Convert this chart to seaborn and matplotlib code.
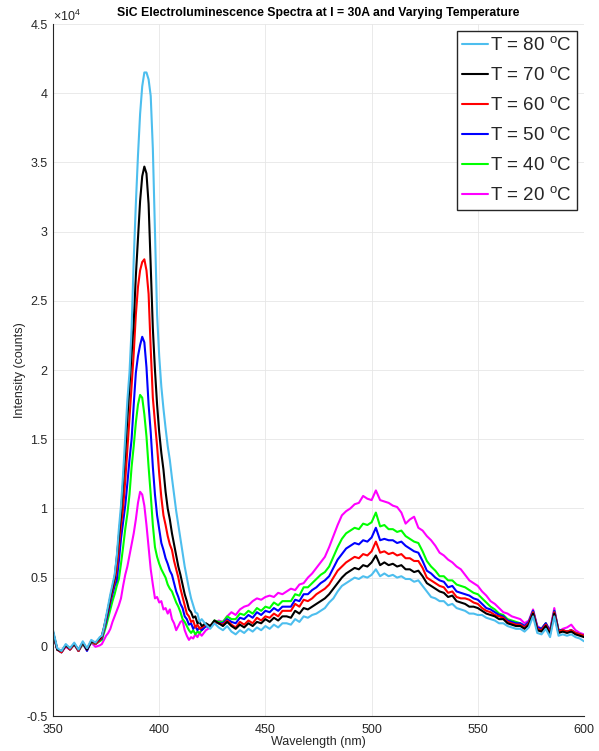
import pandas as pd
import seaborn as sns
import matplotlib.pyplot as plt
from matplotlib.ticker import FuncFormatter

# wavelength samples (nm): coarse on the flat parts, 1 nm across the UV peak
wl = list(range(350, 373, 2)) + list(range(373, 421)) + list(range(422, 601, 2))

# intensities in units of 1e4 counts
# (rows: 350-372 | 373-420 | 422-468 | 470-550 | 552-600)
t80 = [0.12, -0.01, -0.03, 0.02, -0.01, 0.03, -0.02, 0.04, -0.01, 0.05, 0.03, 0.07,
       0.08, 0.14, 0.22, 0.30, 0.38, 0.45, 0.52, 0.65, 0.85, 1.02, 1.25, 1.52, 1.78, 1.98, 2.30, 2.80,
       3.20, 3.55, 3.85, 4.05, 4.15, 4.15, 4.10, 3.98, 3.60, 3.00, 2.40, 2.10, 1.88, 1.72, 1.58, 1.45,
       1.35, 1.22, 1.10, 0.98, 0.88, 0.78, 0.68, 0.58, 0.50, 0.42, 0.35, 0.30, 0.25, 0.24, 0.18, 0.20,
       0.16, 0.13, 0.17, 0.14, 0.12, 0.15, 0.11, 0.09, 0.12, 0.10, 0.13, 0.11, 0.14, 0.12, 0.15, 0.13,
       0.16, 0.14, 0.17, 0.17, 0.16, 0.20, 0.18, 0.22,
       0.21, 0.23, 0.24, 0.26, 0.28, 0.32, 0.35, 0.40, 0.44, 0.46, 0.48, 0.50, 0.49, 0.51, 0.50, 0.52,
       0.56, 0.51, 0.53, 0.51, 0.52, 0.50, 0.51, 0.49, 0.49, 0.47, 0.48, 0.44, 0.40, 0.36, 0.35, 0.33,
       0.33, 0.30, 0.31, 0.28, 0.27, 0.26, 0.24, 0.24, 0.23,
       0.23, 0.21, 0.20, 0.19, 0.17, 0.17, 0.15, 0.14, 0.13, 0.13, 0.11, 0.14, 0.22, 0.10, 0.09, 0.13,
       0.07, 0.22, 0.08, 0.09, 0.08, 0.09, 0.07, 0.06, 0.04]
t70 = [0.11, -0.02, -0.03, 0.01, -0.01, 0.02, -0.02, 0.03, -0.02, 0.04, 0.03, 0.06,
       0.08, 0.14, 0.21, 0.28, 0.36, 0.43, 0.50, 0.64, 0.80, 0.96, 1.18, 1.40, 1.65, 1.88, 2.12, 2.35,
       2.68, 2.95, 3.22, 3.40, 3.47, 3.42, 3.20, 2.75, 2.30, 2.00, 1.75, 1.55, 1.40, 1.28, 1.12, 1.00,
       0.92, 0.82, 0.74, 0.66, 0.58, 0.52, 0.45, 0.38, 0.33, 0.27, 0.25, 0.21, 0.22, 0.17, 0.18, 0.15,
       0.17, 0.15, 0.19, 0.17, 0.15, 0.18, 0.15, 0.13, 0.16, 0.14, 0.17, 0.15, 0.18, 0.17, 0.20, 0.18,
       0.21, 0.19, 0.22, 0.22, 0.21, 0.26, 0.24, 0.28,
       0.27, 0.29, 0.31, 0.33, 0.35, 0.38, 0.42, 0.46, 0.50, 0.53, 0.55, 0.57, 0.56, 0.59, 0.58, 0.61,
       0.66, 0.59, 0.61, 0.59, 0.60, 0.58, 0.59, 0.56, 0.56, 0.54, 0.55, 0.51, 0.46, 0.44, 0.42, 0.40,
       0.39, 0.36, 0.37, 0.33, 0.32, 0.31, 0.29, 0.29, 0.28,
       0.26, 0.24, 0.23, 0.22, 0.20, 0.20, 0.17, 0.16, 0.15, 0.15, 0.13, 0.16, 0.24, 0.12, 0.11, 0.15,
       0.09, 0.24, 0.10, 0.11, 0.10, 0.11, 0.09, 0.08, 0.07]
t60 = [0.10, -0.02, -0.04, 0.01, -0.02, 0.02, -0.03, 0.03, -0.02, 0.04, 0.02, 0.05,
       0.07, 0.13, 0.20, 0.27, 0.34, 0.41, 0.47, 0.56, 0.72, 0.88, 1.00, 1.20, 1.42, 1.65, 1.88, 2.12,
       2.40, 2.60, 2.72, 2.78, 2.80, 2.72, 2.55, 2.15, 1.80, 1.62, 1.45, 1.25, 1.08, 0.95, 0.88, 0.80,
       0.74, 0.70, 0.62, 0.56, 0.50, 0.42, 0.36, 0.30, 0.24, 0.22, 0.18, 0.19, 0.14, 0.16, 0.13, 0.14,
       0.16, 0.15, 0.18, 0.17, 0.16, 0.19, 0.16, 0.14, 0.18, 0.16, 0.19, 0.17, 0.21, 0.19, 0.22, 0.21,
       0.24, 0.22, 0.26, 0.26, 0.26, 0.31, 0.29, 0.34,
       0.33, 0.35, 0.38, 0.40, 0.42, 0.45, 0.50, 0.55, 0.58, 0.61, 0.63, 0.65, 0.64, 0.67, 0.66, 0.69,
       0.76, 0.68, 0.69, 0.67, 0.68, 0.66, 0.67, 0.64, 0.64, 0.62, 0.62, 0.57, 0.50, 0.48, 0.46, 0.44,
       0.43, 0.39, 0.40, 0.36, 0.35, 0.35, 0.34, 0.32, 0.31,
       0.28, 0.26, 0.25, 0.23, 0.22, 0.21, 0.18, 0.17, 0.16, 0.16, 0.14, 0.17, 0.25, 0.13, 0.12, 0.16,
       0.10, 0.25, 0.11, 0.12, 0.11, 0.12, 0.10, 0.09, 0.08]
t50 = [0.10, -0.02, -0.04, 0.01, -0.02, 0.02, -0.03, 0.03, -0.03, 0.04, 0.02, 0.05,
       0.06, 0.12, 0.18, 0.25, 0.32, 0.38, 0.44, 0.48, 0.62, 0.78, 0.90, 1.02, 1.18, 1.35, 1.50, 1.75,
       1.98, 2.10, 2.18, 2.24, 2.20, 2.02, 1.75, 1.55, 1.30, 1.10, 0.95, 0.85, 0.75, 0.70, 0.64, 0.60,
       0.55, 0.52, 0.46, 0.40, 0.36, 0.31, 0.28, 0.22, 0.20, 0.16, 0.17, 0.13, 0.15, 0.12, 0.14, 0.12,
       0.15, 0.14, 0.18, 0.17, 0.17, 0.20, 0.18, 0.17, 0.21, 0.20, 0.23, 0.21, 0.25, 0.23, 0.26, 0.25,
       0.28, 0.26, 0.29, 0.29, 0.29, 0.34, 0.33, 0.38,
       0.38, 0.41, 0.43, 0.46, 0.48, 0.51, 0.57, 0.63, 0.67, 0.71, 0.73, 0.75, 0.74, 0.77, 0.76, 0.79,
       0.86, 0.77, 0.78, 0.77, 0.77, 0.75, 0.76, 0.73, 0.71, 0.69, 0.68, 0.62, 0.55, 0.53, 0.50, 0.48,
       0.47, 0.43, 0.44, 0.40, 0.39, 0.38, 0.37, 0.35, 0.34,
       0.31, 0.28, 0.27, 0.25, 0.23, 0.22, 0.19, 0.18, 0.17, 0.17, 0.15, 0.18, 0.26, 0.14, 0.13, 0.17,
       0.11, 0.26, 0.12, 0.12, 0.11, 0.12, 0.10, 0.09, 0.08]
t40 = [0.10, -0.02, -0.04, 0.01, -0.02, 0.02, -0.03, 0.02, -0.02, 0.03, 0.02, 0.04,
       0.05, 0.10, 0.15, 0.21, 0.27, 0.33, 0.38, 0.44, 0.49, 0.60, 0.72, 0.85, 0.96, 1.10, 1.30, 1.45,
       1.62, 1.75, 1.82, 1.80, 1.68, 1.52, 1.30, 1.10, 0.88, 0.72, 0.65, 0.60, 0.56, 0.53, 0.50, 0.45,
       0.42, 0.40, 0.36, 0.32, 0.29, 0.25, 0.20, 0.18, 0.15, 0.12, 0.10, 0.12, 0.09, 0.11, 0.10, 0.12,
       0.15, 0.14, 0.19, 0.18, 0.18, 0.22, 0.20, 0.20, 0.24, 0.23, 0.26, 0.24, 0.28, 0.26, 0.29, 0.28,
       0.32, 0.30, 0.33, 0.33, 0.33, 0.38, 0.37, 0.43,
       0.43, 0.46, 0.49, 0.52, 0.54, 0.58, 0.65, 0.72, 0.78, 0.82, 0.84, 0.86, 0.85, 0.89, 0.88, 0.90,
       0.97, 0.87, 0.88, 0.85, 0.85, 0.83, 0.84, 0.80, 0.78, 0.76, 0.75, 0.69, 0.62, 0.58, 0.55, 0.51,
       0.51, 0.48, 0.48, 0.45, 0.44, 0.43, 0.41, 0.39, 0.38,
       0.35, 0.32, 0.29, 0.27, 0.24, 0.23, 0.20, 0.19, 0.18, 0.17, 0.15, 0.18, 0.26, 0.14, 0.13, 0.17,
       0.11, 0.26, 0.12, 0.12, 0.11, 0.12, 0.10, 0.09, 0.08]
t20 = [0.10, -0.02, -0.04, 0.00, -0.02, 0.02, -0.03, 0.02, -0.02, 0.03, 0.00, 0.01,
       0.02, 0.05, 0.08, 0.10, 0.13, 0.18, 0.22, 0.26, 0.30, 0.35, 0.44, 0.52, 0.58, 0.66, 0.74, 0.82,
       0.92, 1.04, 1.12, 1.10, 1.02, 0.88, 0.72, 0.56, 0.45, 0.35, 0.36, 0.32, 0.33, 0.27, 0.28, 0.24,
       0.27, 0.20, 0.17, 0.12, 0.15, 0.18, 0.19, 0.12, 0.08, 0.05, 0.07, 0.06, 0.09, 0.07, 0.10, 0.08,
       0.12, 0.14, 0.17, 0.19, 0.18, 0.22, 0.25, 0.23, 0.27, 0.29, 0.30, 0.33, 0.35, 0.34, 0.36, 0.37,
       0.36, 0.39, 0.38, 0.40, 0.42, 0.41, 0.45, 0.46,
       0.50, 0.53, 0.57, 0.61, 0.65, 0.72, 0.80, 0.88, 0.95, 0.98, 1.00, 1.03, 1.04, 1.09, 1.07, 1.06,
       1.13, 1.06, 1.05, 1.04, 1.02, 1.01, 0.97, 0.89, 0.92, 0.94, 0.86, 0.84, 0.80, 0.77, 0.73, 0.68,
       0.66, 0.63, 0.61, 0.58, 0.56, 0.52, 0.48, 0.46, 0.44,
       0.40, 0.37, 0.33, 0.31, 0.28, 0.25, 0.24, 0.22, 0.21, 0.20, 0.17, 0.19, 0.27, 0.15, 0.13, 0.17,
       0.12, 0.28, 0.11, 0.13, 0.14, 0.16, 0.12, 0.10, 0.09]

labels = ['T = 80 $^{\\mathrm{o}}$C', 'T = 70 $^{\\mathrm{o}}$C', 'T = 60 $^{\\mathrm{o}}$C',
          'T = 50 $^{\\mathrm{o}}$C', 'T = 40 $^{\\mathrm{o}}$C', 'T = 20 $^{\\mathrm{o}}$C']
series = [t80, t70, t60, t50, t40, t20]
colors = ['#4DBEEE', '#000000', '#FF0000', '#0000FF', '#00FF00', '#FF00FF']

frames = []
for lab, vals in zip(labels, series):
    frames.append(pd.DataFrame({'wavelength': wl, 'counts': [v * 1e4 for v in vals], 'label': lab}))
df = pd.concat(frames, ignore_index=True)

sns.set_style('white')
plt.rcParams['font.family'] = ['Liberation Sans', 'DejaVu Sans']
plt.rcParams['mathtext.fontset'] = 'custom'
plt.rcParams['mathtext.rm'] = 'Liberation Sans'
plt.rcParams['axes.unicode_minus'] = False

fig = plt.figure(figsize=(5.99, 7.51), dpi=100)
ax = fig.add_axes([0.0885, 0.0466, 0.8865, 0.9214])

# draw 20 C first so the 80 C trace ends up on top, as in the original
sns.lineplot(data=df, x='wavelength', y='counts', hue='label', hue_order=labels[::-1],
             palette=dict(zip(labels, colors)), estimator=None, sort=False,
             linewidth=1.5, ax=ax)

ax.set_xlim(350, 600)
ax.set_ylim(-5000, 45000)
ax.set_xticks([350, 400, 450, 500, 550, 600])
ax.set_yticks([-5000 + 5000 * i for i in range(11)])
ax.yaxis.set_major_formatter(FuncFormatter(lambda v, p: f'{v / 1e4:g}'))
ax.grid(True, color='#e6e6e6', linewidth=0.6)
ax.set_axisbelow(True)
for s in ['top', 'right']:
    ax.spines[s].set_visible(False)
for s in ['left', 'bottom']:
    ax.spines[s].set_color('#262626')
    ax.spines[s].set_linewidth(0.8)
ax.tick_params(direction='in', length=5, width=0.8, colors='#262626', labelsize=9)
ax.tick_params(axis='x', pad=6)
ax.tick_params(axis='y', pad=4)

ax.set_xlabel('Wavelength (nm)', fontsize=9, color='#262626', labelpad=0)
ax.set_ylabel('Intensity (counts)', fontsize=9, color='#262626', labelpad=0)
ax.set_title('SiC Electroluminescence Spectra at I = 30A and Varying Temperature',
             fontsize=8.8, fontweight='bold', color='#000000', pad=6)
ax.text(0.0, 1.005, '$\\times$10$^{4}$', transform=ax.transAxes, fontsize=9,
        color='#262626', ha='left', va='baseline')

h, l = ax.get_legend_handles_labels()
order = [l.index(lab) for lab in labels]
leg = ax.legend([h[i] for i in order], [l[i] for i in order], loc='upper right',
                bbox_to_anchor=(0.987, 0.99), borderaxespad=0, fontsize=13.5,
                handlelength=1.4, handletextpad=0.1, labelspacing=0.6,
                borderpad=0.28, fancybox=False, framealpha=1, edgecolor='#262626')
leg.get_frame().set_linewidth(1.0)

fig.savefig('out.png', dpi=100)
